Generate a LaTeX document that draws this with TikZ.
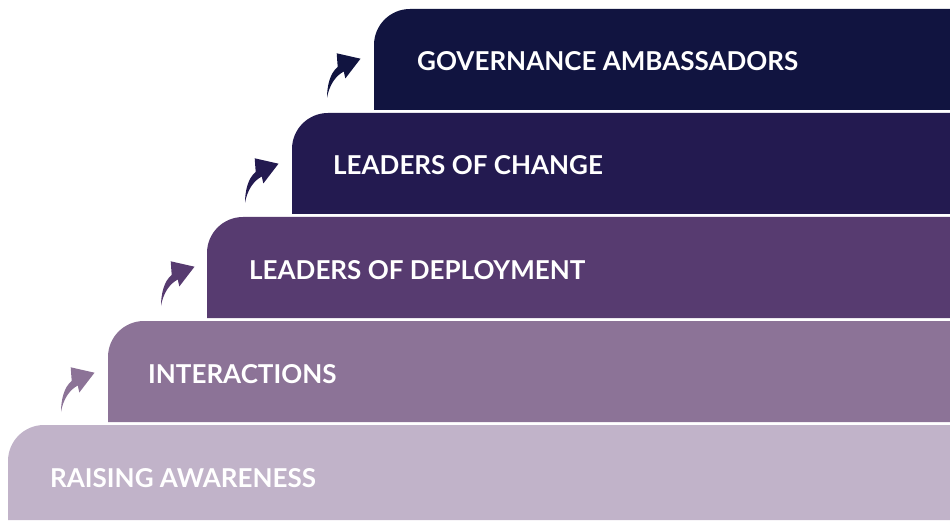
\documentclass[tikz,border=0pt]{standalone}
\usepackage{fontspec}
\setmainfont{Lato}
\definecolor{cA}{HTML}{C1B3C9}
\definecolor{cB}{HTML}{8C7397}
\definecolor{cC}{HTML}{573B70}
\definecolor{cD}{HTML}{231A50}
\definecolor{cE}{HTML}{111440}
\newcommand\swooshpath{(0,0) .. controls (0,12) and (3,25) .. (10.7,31) -- (9.7,44.7) -- (33.5,39.3) -- (18.3,19.5) -- (16.8,26.5) .. controls (8,22) and (2,12) .. cycle}
\newcommand\barpath[3]{(950,#3) -- (#1,#3) -- (#1,#2-36) arc[start angle=180,end angle=90,radius=36] -- (950,#2) -- cycle}
\tikzset{
  lbl/.style={anchor=west, text=white, font=\bfseries\fontsize{26}{30}\selectfont, inner sep=0pt},
}
\begin{document}
\begin{tikzpicture}[x=1pt,y=1pt]
\useasboundingbox (0,0) rectangle (950,520);
\fill[cA] \barpath{8}{95}{0};
\fill[cB] \barpath{108}{199}{98};
\fill[cC] \barpath{207}{303}{202};
\fill[cD] \barpath{292}{407}{306};
\fill[cE] \barpath{374}{511}{410};
\node[lbl] (t1) at (50,41.5) {RAISING AWARENESS};
\node[lbl] (t2) at (148,145.5) {INTERACTIONS};
\node[lbl] (t3) at (249,249.5) {LEADERS OF DEPLOYMENT};
\node[lbl] (t4) at (333,354.5) {LEADERS OF CHANGE};
\node[lbl] (t5) at (417,458.5) {GOVERNANCE AMBASSADORS};
\fill[cB, shift={(61,108)}] \swooshpath;
\fill[cC, shift={(161,214)}] \swooshpath;
\fill[cD, shift={(245,317)}] \swooshpath;
\fill[cE, shift={(327,422)}] \swooshpath;
\end{tikzpicture}
\end{document}
